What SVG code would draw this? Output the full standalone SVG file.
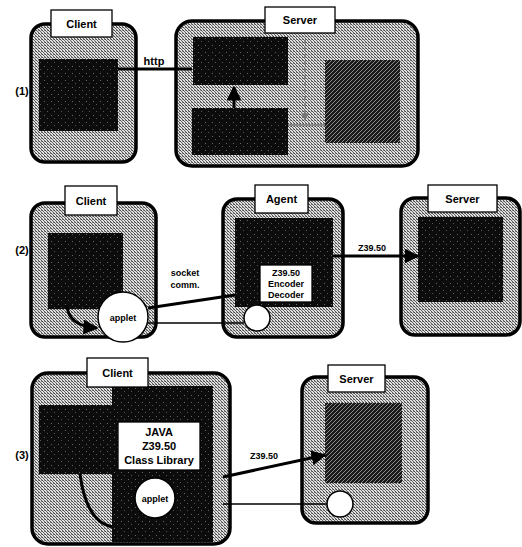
<svg xmlns="http://www.w3.org/2000/svg" width="522" height="547" viewBox="0 0 522 547">
<defs>
<pattern id="stip" width="3" height="3" patternUnits="userSpaceOnUse">
<rect width="3" height="3" fill="#e0e0e0"/>
<rect x="0" y="0" width="1" height="1" fill="#444"/>
<rect x="1" y="1" width="1" height="1" fill="#666"/>
<rect x="2" y="2" width="1" height="1" fill="#555"/>
<rect x="2" y="0" width="1" height="1" fill="#888"/>
</pattern>
<pattern id="dark" width="7" height="7" patternUnits="userSpaceOnUse">
<rect width="7" height="7" fill="#0c0c0c"/>
<rect x="2" y="3" width="1" height="1" fill="#666"/>
<rect x="5" y="6" width="1" height="1" fill="#555"/>
</pattern>
<pattern id="hatch" width="4" height="4" patternUnits="userSpaceOnUse">
<rect width="4" height="4" fill="#1a1a1a"/>
<path d="M0,4 L4,0" stroke="#8a8a8a" stroke-width="1"/>
</pattern>
<marker id="ah" viewBox="0 0 10 10" refX="9" refY="5" markerWidth="5" markerHeight="5" orient="auto">
<path d="M0,0 L10,5 L0,10 z" fill="#000"/>
</marker>
<marker id="ahg" viewBox="0 0 10 10" refX="9" refY="5" markerWidth="5" markerHeight="5" orient="auto">
<path d="M0,0 L10,5 L0,10 z" fill="#777"/>
</marker>
</defs>
<style>
.outer{fill:url(#stip);stroke:#000;stroke-width:3.5}
.inner{fill:url(#dark)}
.hatch{fill:url(#hatch)}
.lbl{fill:#fff;stroke:#000;stroke-width:1.3}
.t{font-family:"Liberation Sans",Arial,sans-serif;font-weight:bold;font-size:11px;fill:#000;text-anchor:middle}
.ts{font-family:"Liberation Sans",Arial,sans-serif;font-weight:bold;font-size:9px;fill:#000;text-anchor:middle}
.circ{fill:#fff;stroke:#000;stroke-width:1.5}
.thick{stroke:#000;stroke-width:3;fill:none}
.thin{stroke:#000;stroke-width:1.3;fill:none}
</style>
<rect width="522" height="547" fill="#fff"/>

<!-- Row 1 -->
<text class="t" x="22" y="95">(1)</text>
<g id="r1-client">
<rect class="outer" x="31" y="24" width="105" height="138" rx="14"/>
<rect class="inner" x="39" y="59" width="79" height="72"/>
<rect class="lbl" x="51" y="10" width="61" height="27"/>
<text class="t" x="81.5" y="28">Client</text>
</g>
<g id="r1-server">
<rect class="outer" x="176" y="21" width="242" height="145" rx="16"/>
<rect class="inner" x="193" y="37" width="95" height="48"/>
<rect class="inner" x="192" y="108" width="96" height="47"/>
<rect class="hatch" x="325" y="60" width="75" height="83"/>
<rect class="lbl" x="265" y="7" width="70" height="26"/>
<text class="t" x="300" y="24">Server</text>
</g>

<!-- Row 2 -->
<text class="t" x="22" y="254">(2)</text>
<g id="r2-client">
<rect class="outer" x="31" y="203" width="125" height="134" rx="14"/>
<rect class="inner" x="48" y="233" width="75" height="76"/>
<rect class="lbl" x="65" y="186" width="52" height="29"/>
<text class="t" x="91" y="205">Client</text>
</g>
<g id="r2-agent">
<rect class="outer" x="223" y="199" width="120" height="138" rx="14"/>
<rect class="inner" x="235" y="218" width="98" height="89"/>
<rect class="lbl" x="260" y="265" width="52" height="37" stroke-width="0.8"/>
<text class="ts" x="286" y="276">Z39.50</text>
<text class="ts" x="286" y="287">Encoder</text>
<text class="ts" x="286" y="298">Decoder</text>
<rect class="lbl" x="255" y="185" width="53" height="28"/>
<text class="t" x="281.5" y="203">Agent</text>
<circle class="circ" cx="257" cy="318" r="13"/>
</g>
<g id="r2-server">
<rect class="outer" x="401" y="198" width="119" height="137" rx="14"/>
<rect class="inner" x="418" y="217" width="85" height="85"/>
<rect class="lbl" x="428" y="185" width="69" height="27"/>
<text class="t" x="462.5" y="203">Server</text>
</g>
<g id="r2-applet">
<circle class="circ" cx="123" cy="317" r="25"/>
<text class="ts" x="123" y="321">applet</text>
</g>

<!-- Row 3 -->
<text class="t" x="22" y="459">(3)</text>
<g id="r3-client">
<rect class="outer" x="32" y="373" width="198" height="171" rx="16"/>
<rect class="inner" x="112" y="386" width="101" height="156"/>
<rect class="inner" x="39" y="405" width="73" height="69"/>
<rect class="lbl" x="118" y="422" width="82" height="48" stroke-width="0.8"/>
<text class="t" x="159" y="436" font-size="10">JAVA</text>
<text class="t" x="159" y="450" font-size="10">Z39.50</text>
<text class="t" x="159" y="464" font-size="10">Class Library</text>
<rect class="lbl" x="87" y="358" width="61" height="29"/>
<text class="t" x="117.5" y="377">Client</text>
</g>
<g id="r3-applet">
<circle class="circ" cx="155" cy="498" r="20"/>
<text class="ts" x="155" y="502">applet</text>
</g>
<g id="r3-server">
<rect class="outer" x="302" y="377" width="126" height="146" rx="14"/>
<rect class="hatch" x="325" y="403" width="77" height="80"/>
<circle class="circ" cx="340" cy="504" r="13"/>
<rect class="lbl" x="328" y="365" width="57" height="27"/>
<text class="t" x="356.5" y="383">Server</text>
</g>

<g id="connectors">
<!-- row 1 -->
<line class="thick" x1="118" y1="69" x2="192" y2="69" stroke-width="2.5"/>
<text class="t" x="154" y="65">http</text>
<line class="thick" x1="234" y1="108" x2="234" y2="87" stroke-width="2.5" marker-end="url(#ah)"/>
<line x1="305" y1="40" x2="305" y2="120" stroke="#777" stroke-width="1.5" stroke-dasharray="4,3" marker-end="url(#ahg)"/>
<path d="M288,125 L325,125" stroke="#888" stroke-width="2" fill="none"/>
<!-- row 2 -->
<path class="thick" d="M67,305 Q68,326 97,328" stroke-width="4" marker-end="url(#ah)"/>
<line class="thick" x1="148" y1="308" x2="235" y2="295" stroke-width="2.5"/>
<text class="ts" x="185" y="276" font-size="10">socket</text>
<text class="ts" x="185" y="288" font-size="10">comm.</text>
<line class="thin" x1="148" y1="323" x2="244" y2="323"/>
<line class="thick" x1="333" y1="256" x2="418" y2="256" stroke-width="2.5" marker-end="url(#ah)"/>
<text class="ts" x="372" y="251" font-size="10">Z39.50</text>
<!-- row 3 -->
<path class="thick" d="M80,474 Q86,521 112,527" stroke-width="5"/>
<line class="thick" x1="223" y1="477" x2="325" y2="455" stroke-width="2.5" marker-end="url(#ah)"/>
<text class="ts" x="264" y="459" font-size="10">Z39.50</text>
<line class="thin" x1="223" y1="504" x2="327" y2="504"/>
</g>
</svg>
